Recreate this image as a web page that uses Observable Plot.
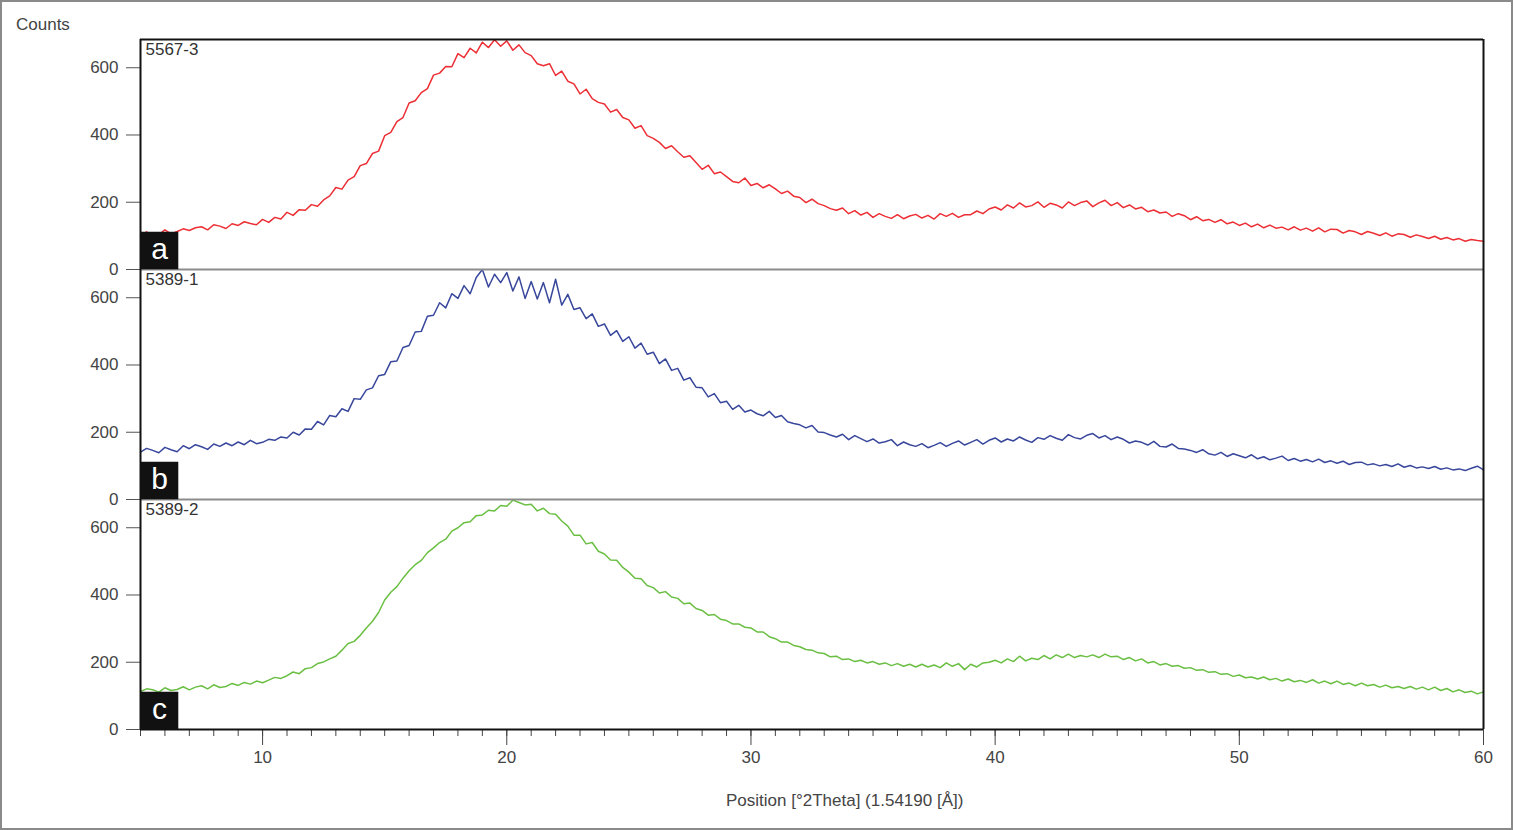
<!DOCTYPE html>
<html>
<head>
<meta charset="utf-8">
<script src="https://cdn.jsdelivr.net/npm/d3@7"></script>
<script src="https://cdn.jsdelivr.net/npm/@observablehq/plot@0.6"></script>
<style>
  html, body { margin: 0; padding: 0; background: #ffffff; }
  #wrap { position: relative; width: 1513px; height: 830px; overflow: hidden; background: #ffffff;
          font-family: "Liberation Sans", Arial, sans-serif; color: #444; }
  #frame { position: absolute; left: 0; top: 0; width: 1513px; height: 830px; box-sizing: border-box;
           border: 2px solid #8a8a8a; pointer-events: none; }
  #counts { position: absolute; left: 16px; top: 15px; font-size: 17px; color: #444; }
  #xlabel { position: absolute; left: 726px; top: 791px; font-size: 17px; color: #444; white-space: nowrap; }
  #chart { position: absolute; left: 0; top: 0; }
</style>
</head>
<body>
<div id="wrap">
  <div id="chart"></div>
  <div id="counts">Counts</div>
  <div id="xlabel">Position [°2Theta] (1.54190 [Å])</div>
  <div id="frame"></div>
</div>
<script>
// ---- data (0.25° sampling) ----
const samples = ["5567-3", "5389-1", "5389-2"];
const panelLetters = ["a", "b", "c"];
const colors = ["#ec2f35", "#38479c", "#6abf43"];
const xMin = 5, xMax = 60, thetaStep = 0.25;
const yMax = 684;
const yTicks = [0, 200, 400, 600];
const xMajorTicks = [10, 20, 30, 40, 50, 60];
const xMinorTicks = d3.range(xMin, xMax + 0.5, 1);

const counts_5567_3 = [
  100,112,101,104, 118,106,113,121, 116,124,127,118, 133,129,122,136, 131,142,137,133,
  149,140,155,150, 170,161,178,176, 193,188,207,219, 244,239,266,276, 309,315,345,352,
  398,408,440,452, 495,502,526,538, 578,584,604,603, 642,630,658,644, 676,660,683,664,
  680,652,668,645, 636,612,606,612, 577,590,560,552, 522,536,508,497, 492,468,476,452,
  445,420,428,398, 390,378,360,368, 350,334,338,318, 298,310,285,290, 276,262,258,272,
  250,256,243,252, 240,226,233,218, 214,199,209,196, 190,181,176,183, 166,175,162,170,
  155,166,158,152, 163,151,159,164, 153,161,150,166, 158,167,155,163, 163,174,166,180,
  186,177,192,183, 198,186,190,201, 185,197,192,183, 201,190,199,204, 187,198,206,190,
  199,184,192,180, 185,172,177,168, 171,158,166,160, 148,157,145,149, 140,148,136,141,
  131,138,127,135, 124,132,123,126, 118,127,117,123, 114,124,112,120, 119,108,116,112,
  104,113,108,101, 109,99,106,104, 96,103,98,92, 99,90,95,88, 92,84,89,86,
  84
];
const counts_5389_1 = [
  141,152,146,139, 155,148,142,160, 151,163,157,149, 165,158,168,160, 171,163,176,166,
  170,179,176,186, 183,200,192,210, 209,232,222,250, 246,270,262,300, 298,326,332,368,
  372,410,412,452, 458,498,500,545, 548,585,570,612, 598,636,612,660, 684,632,670,645,
  675,620,662,598, 648,596,645,585, 655,578,610,565, 570,538,552,515, 522,488,502,470,
  484,450,465,432, 438,404,418,384, 390,355,362,334, 332,305,315,288, 292,268,280,260,
  266,255,249,262, 244,250,231,226, 222,213,220,201, 199,192,186,194, 178,190,181,172,
  180,168,172,178, 160,171,163,158, 166,154,161,169, 158,167,174,162, 170,178,165,176,
  183,171,180,174, 186,177,170,184, 179,190,182,176, 193,184,180,191, 196,183,190,178,
  186,179,168,174, 170,162,173,158, 156,165,152,150, 146,140,148,136, 132,140,128,136,
  130,124,133,121, 127,118,123,129, 116,122,114,119, 112,120,110,115, 108,114,104,110,
  111,103,106,100, 104,98,106,96, 101,94,97,92, 98,90,94,88, 91,86,93,99,
  88
];
const counts_5389_2 = [
  113,121,118,111, 124,116,119,127, 118,126,130,121, 133,125,128,137, 131,140,135,144,
  139,147,155,152, 160,171,166,181, 184,196,201,210, 218,236,256,262, 280,302,322,348,
  385,408,425,450, 472,490,503,526, 540,556,566,590, 600,615,618,636, 638,652,650,666,
  664,682,675,668, 670,650,658,642, 640,620,605,578, 578,552,556,530, 522,504,503,482,
  468,450,448,428, 422,406,410,394, 390,374,376,360, 354,340,342,328, 324,314,314,304,
  302,290,290,276, 270,260,260,250, 246,238,236,228, 226,216,218,208, 210,202,206,198,
  202,194,198,190, 196,188,194,186, 194,186,192,184, 198,188,196,178, 194,186,198,200,
  206,198,210,202, 218,204,212,208, 220,210,222,214, 224,214,220,216, 222,214,224,216,
  218,208,214,204, 210,198,202,192, 196,188,190,182, 184,176,178,170, 172,164,166,158,
  162,154,156,150, 156,148,152,144, 150,142,146,140, 148,138,144,136, 144,134,138,130,
  138,130,134,126, 132,124,128,122, 128,120,126,118, 126,116,122,112, 118,110,114,106,
  112
];

// ---- build table ----
const series = [counts_5567_3, counts_5389_1, counts_5389_2];
const data = [];
series.forEach((vals, s) => {
  vals.forEach((v, i) => data.push({sample: samples[s], theta: xMin + i * thetaStep, counts: v}));
});
const letters = samples.map((s, i) => ({sample: s, letter: panelLetters[i]}));

const chart = Plot.plot({
  width: 1513,
  height: 830,
  marginLeft: 140,
  marginRight: 30,
  marginTop: 38,
  marginBottom: 101,
  style: {fontFamily: "'Liberation Sans', Arial, sans-serif", fontSize: "17px", color: "#444", background: "transparent", overflow: "visible"},
  x: {domain: [xMin, xMax]},
  y: {domain: [0, yMax]},
  fy: {domain: samples, axis: null, padding: 0},
  color: {domain: samples, range: colors},
  marks: [
    Plot.line(data, {x: "theta", y: "counts", fy: "sample", stroke: "sample", strokeWidth: 1.5, strokeLinejoin: "round"}),
    Plot.axisY({ticks: yTicks, tickSize: 14, tickPadding: 8, label: null, stroke: "#555", fill: "#444", fontSize: 17}),
    Plot.axisX({ticks: xMinorTicks, tickSize: 7, tickFormat: () => "", label: null, stroke: "#444"}),
    Plot.axisX({ticks: xMajorTicks, tickSize: 16, tickPadding: 5, label: null, stroke: "#444", fill: "#444", fontSize: 17}),
    Plot.ruleY(letters.slice(0, 2), {y: () => 0, fy: "sample", stroke: "#8c8c8c", strokeWidth: 2}),
    Plot.ruleY(letters.slice(0, 1), {y: () => yMax, fy: "sample", stroke: "#111", strokeWidth: 2}),
    Plot.ruleY(letters.slice(2), {y: () => 0, fy: "sample", stroke: "#111", strokeWidth: 2}),
    Plot.ruleX([xMin, xMax], {stroke: "#111", strokeWidth: 2}),
    Plot.text(letters, {fy: "sample", text: "sample", frameAnchor: "top-left", dx: 5, dy: 3, fill: "#333", fontSize: 17}),
    Plot.dot(letters, {fy: "sample", frameAnchor: "bottom-left", symbol: "square", r: 21.2, fill: "#111", stroke: "none", dx: 19, dy: -19}),
    Plot.text(letters, {fy: "sample", text: "letter", frameAnchor: "bottom-left", dx: 19, dy: -20, fill: "white", fontSize: 30, textAnchor: "middle", lineAnchor: "middle"})
  ]
});
document.getElementById("chart").appendChild(chart);
</script>
</body>
</html>
